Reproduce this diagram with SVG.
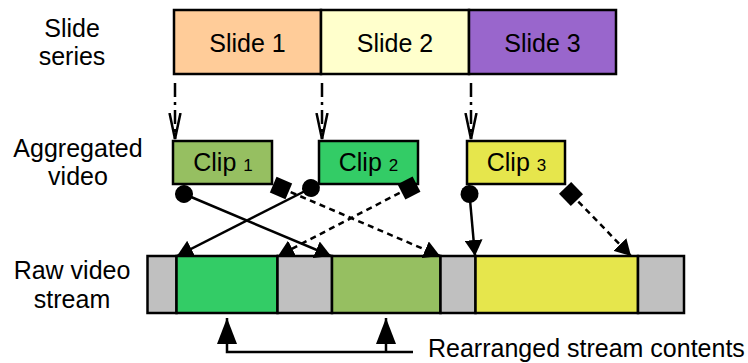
<svg xmlns="http://www.w3.org/2000/svg" width="748" height="363" viewBox="0 0 748 363">
  <style>
    text { font-family: "Liberation Sans", Arial, sans-serif; font-size: 25px; fill: #000; }
    .lbl { text-anchor: middle; }
    .box { stroke: #000; stroke-width: 2.5; }
    .sub { font-size: 17px; }
    .link { fill: none; stroke: #000; stroke-width: 2.5; }
    .dash { stroke-dasharray: 6 4.5; }
    .dashdot { stroke-dasharray: 14 5 3 5; }
  </style>
  <defs>
    <marker id="tri" markerUnits="userSpaceOnUse" viewBox="0 0 16 18" refX="16" refY="9" markerWidth="16" markerHeight="18" orient="auto">
      <path d="M0,0 L16,9 L0,18 Z" fill="#000"/>
    </marker>
    <marker id="vee" markerUnits="userSpaceOnUse" viewBox="0 0 28 14" refX="26" refY="7" markerWidth="28" markerHeight="14" orient="auto">
      <path d="M0,1.5 L26,7 L0,12.5" fill="none" stroke="#000" stroke-width="2.5"/>
    </marker>
    <marker id="dot" markerUnits="userSpaceOnUse" viewBox="-10 -10 20 20" refX="0" refY="0" markerWidth="20" markerHeight="20" orient="auto">
      <circle r="9" fill="#000"/>
    </marker>
    <marker id="sq" markerUnits="userSpaceOnUse" viewBox="-10 -10 20 20" refX="0" refY="0" markerWidth="20" markerHeight="20" orient="auto">
      <rect x="-8.5" y="-8.5" width="17" height="17" fill="#000"/>
    </marker>
    <marker id="big" markerUnits="userSpaceOnUse" viewBox="0 0 26 20" refX="26" refY="10" markerWidth="26" markerHeight="20" orient="auto">
      <path d="M0,0 L26,10 L0,20 Z" fill="#000"/>
    </marker>
  </defs>

  <!-- row titles -->
  <g id="row-labels">
    <text class="lbl" x="72" y="37">Slide</text>
    <text class="lbl" x="72" y="65">series</text>
    <text class="lbl" x="78" y="157">Aggregated</text>
    <text class="lbl" x="78" y="185">video</text>
    <text class="lbl" x="72" y="279">Raw video</text>
    <text class="lbl" x="72" y="308">stream</text>
  </g>

  <!-- slides -->
  <g id="slide1">
    <rect class="box" x="174" y="10" width="147" height="64" fill="#FFCC99"/>
    <text class="lbl" x="247.5" y="52">Slide 1</text>
  </g>
  <g id="slide2">
    <rect class="box" x="321" y="10" width="148" height="64" fill="#FFFFCC"/>
    <text class="lbl" x="395" y="52">Slide 2</text>
  </g>
  <g id="slide3">
    <rect class="box" x="469" y="10" width="147" height="64" fill="#9966CC"/>
    <text class="lbl" x="542.5" y="52">Slide 3</text>
  </g>

  <!-- clips -->
  <g id="clip1">
    <rect class="box" x="173" y="141" width="99" height="43" fill="#96BF61"/>
    <text class="lbl" x="223" y="171">Clip <tspan class="sub">1</tspan></text>
  </g>
  <g id="clip2">
    <rect class="box" x="319" y="141" width="99" height="43" fill="#33CC66"/>
    <text class="lbl" x="368.5" y="171">Clip <tspan class="sub">2</tspan></text>
  </g>
  <g id="clip3">
    <rect class="box" x="467" y="141" width="98" height="43" fill="#E6E64C"/>
    <text class="lbl" x="516.5" y="171">Clip <tspan class="sub">3</tspan></text>
  </g>

  <!-- raw stream -->
  <g id="stream">
    <rect class="box" x="147.5" y="256" width="29" height="57" fill="#C0C0C0"/>
    <rect class="box" x="176.5" y="256" width="101" height="57" fill="#33CC66"/>
    <rect class="box" x="277.5" y="256" width="54.5" height="57" fill="#C0C0C0"/>
    <rect class="box" x="332" y="256" width="108.5" height="57" fill="#96BF61"/>
    <rect class="box" x="440.5" y="256" width="35" height="57" fill="#C0C0C0"/>
    <rect class="box" x="475.5" y="256" width="162.5" height="57" fill="#E6E64C"/>
    <rect class="box" x="638" y="256" width="46" height="57" fill="#C0C0C0"/>
  </g>

  <g id="note">
    <text x="428" y="357">Rearranged stream contents</text>
  </g>

  <!-- connectors -->
  <g id="connectors">
    <line class="link dashdot" x1="175" y1="83" x2="175" y2="139" marker-end="url(#vee)"/>
    <line class="link dashdot" x1="322" y1="83" x2="322" y2="139" marker-end="url(#vee)"/>
    <line class="link dashdot" x1="471" y1="83" x2="471" y2="139" marker-end="url(#vee)"/>

    <line class="link" x1="184" y1="194" x2="331" y2="256" marker-start="url(#dot)" marker-end="url(#tri)"/>
    <line class="link dash" x1="281" y1="188" x2="440" y2="256" marker-start="url(#sq)" marker-end="url(#tri)"/>
    <line class="link" x1="311" y1="188" x2="177" y2="256" marker-start="url(#dot)" marker-end="url(#tri)"/>
    <line class="link dash" x1="409" y1="188" x2="278" y2="256" marker-start="url(#sq)" marker-end="url(#tri)"/>
    <line class="link" x1="469.5" y1="194" x2="475" y2="256" marker-start="url(#dot)" marker-end="url(#tri)"/>
    <line class="link dash" x1="571" y1="194" x2="631" y2="256" marker-start="url(#sq)" marker-end="url(#tri)"/>

    <polyline class="link" points="413,352 227,352 227,318" marker-end="url(#big)"/>
    <line class="link" x1="386" y1="352" x2="386" y2="318" marker-end="url(#big)"/>
  </g>
</svg>
